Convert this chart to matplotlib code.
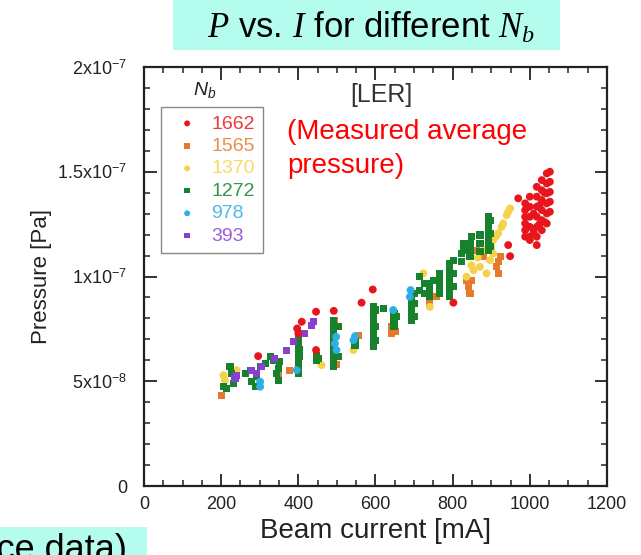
import numpy as np
import matplotlib
matplotlib.use("Agg")
import matplotlib.pyplot as plt
from matplotlib.patches import Rectangle

plt.rcParams['font.family'] = ['Liberation Sans', 'DejaVu Sans']
plt.rcParams['mathtext.fontset'] = 'custom'
plt.rcParams['mathtext.rm'] = 'Liberation Sans'
plt.rcParams['mathtext.it'] = 'Liberation Serif:italic'
plt.rcParams['mathtext.sf'] = 'Liberation Sans:italic'

# beam current [mA] and pressure [1e-8 Pa], one pair of lists per bunch number
i_1662 = [988, 988, 988, 988, 988, 988, 1000, 1000, 1000, 1000, 1000, 1000,
          1018, 1018, 1018, 1018, 1018, 1018, 1018, 1031, 1031, 1031, 1031, 1031, 1031,
          1044, 1044, 1044, 1044, 1044, 1044, 1052, 1052, 1052, 1052, 1052,
          1010, 1010, 1025, 1025, 1038, 1038,
          970, 944, 949, 802, 593, 564, 492, 446, 409, 397, 400, 446, 296]
p_1662 = [13.49, 13.17, 12.85, 12.53, 12.21, 11.90, 13.81, 13.33, 12.85, 12.37, 11.90, 11.74,
          14.28, 13.81, 13.33, 12.85, 12.37, 11.90, 11.50, 14.60, 14.12, 13.65, 13.17, 12.69, 12.21,
          14.92, 14.44, 13.97, 13.49, 13.01, 12.53, 15.0, 14.52, 14.04, 13.57, 13.09,
          13.0, 12.1, 13.4, 12.5, 14.0, 12.6,
          13.73, 11.5, 10.97, 8.75, 9.38, 8.75, 8.36, 8.32, 7.84, 7.52, 7.28, 6.49, 6.2]

i_1565 = [201, 378, 495, 556, 642, 759, 741, 841, 849, 914, 918, 923, 880, 862, 348,
          642, 651, 836, 500, 845, 920]
p_1565 = [4.34, 5.53, 7.92, 7.2, 7.28, 9.03, 8.71, 9.51, 9.83, 10.46, 10.15, 10.94, 10.94,
          11.26, 5.37, 7.6, 7.36, 9.83, 5.8, 9.2, 10.7]

i_1370 = [206, 210, 240, 460, 543, 741, 836, 854, 849, 871, 880, 905, 918, 927, 931, 940,
          944, 949, 905, 897, 888, 724, 865, 900, 912]
p_1370 = [5.29, 5.05, 5.53, 5.77, 6.49, 8.55, 9.99, 10.3, 10.54, 10.46, 11.26, 11.1, 12.06,
          12.37, 12.53, 12.93, 13.09, 13.25, 11.74, 10.78, 10.15, 10.15, 10.9, 11.4, 11.9]

i_1272 = [205, 214, 223, 227, 231, 262, 275, 288, 292, 301, 279,
          316, 327, 335, 344, 348, 352, 348,
          400, 400, 400, 400, 400, 400, 400, 400, 400, 400, 404, 404, 446, 446, 452,
          492, 492, 492, 492, 492, 492, 492, 492, 492, 492, 492, 504, 504, 547, 547,
          594, 594, 594, 594, 594, 594, 594, 594, 594, 594, 601, 601, 601, 620,
          648, 648, 648, 655, 694, 694, 694, 694, 694, 702, 702, 702,
          715, 715, 728, 728, 741, 741, 741, 750, 767, 767, 767, 767,
          793, 793, 793, 793, 793, 793, 793, 793, 802, 802, 802,
          823, 823, 828, 828, 845, 845, 845, 849, 871, 871, 871,
          892, 892, 892, 892, 892, 892, 892, 892, 892, 898, 898, 898]
p_1272 = [4.74, 4.66, 5.69, 5.37, 4.90, 5.37, 5.53, 4.74, 5.21, 5.69, 4.98,
          5.85, 6.17, 6.01, 5.37, 5.05, 5.93, 5.61,
          7.28, 7.1, 6.96, 6.8, 6.65, 6.33, 6.01, 5.69, 5.53, 5.37, 6.5, 6.17, 6.25, 6.01, 6.09,
          7.92, 7.76, 7.6, 7.44, 7.28, 6.96, 6.65, 6.5, 6.33, 6.01, 5.69, 7.6, 6.17, 6.96, 6.73,
          8.55, 8.4, 8.24, 8.08, 7.92, 7.76, 7.6, 7.28, 6.96, 6.65, 8.4, 7.6, 6.96, 8.48,
          8.24, 7.92, 7.6, 8.08, 8.87, 8.71, 8.55, 8.24, 7.92, 9.19, 8.71, 8.08,
          9.99, 9.35, 9.67, 9.19, 9.67, 9.35, 9.03, 9.83, 10.15, 9.83, 9.51, 9.19,
          10.62, 10.46, 10.30, 10.15, 9.99, 9.67, 9.35, 9.03, 10.78, 10.15, 9.51,
          11.1, 10.70, 11.58, 11.26, 11.58, 11.26, 10.94, 11.9, 11.98, 11.58, 11.18,
          12.85, 12.69, 12.53, 12.37, 12.21, 12.05, 11.9, 11.58, 11.26, 12.69, 12.05, 11.42]

i_978 = [495, 499, 498, 543, 547, 646, 691, 689, 301, 396, 301]
p_978 = [6.8, 6.49, 7.12, 6.96, 7.15, 8.4, 9.35, 9.03, 4.74, 5.53, 4.98]

i_393 = [435, 439, 417, 387, 370, 339, 305, 279, 240, 236, 292]
p_393 = [7.68, 7.84, 7.28, 6.88, 6.45, 6.09, 5.69, 5.53, 5.29, 5.13, 5.37]

labels = ['1662', '1565', '1370', '1272', '978', '393']
colors = ['#e8161c', '#e57a2c', '#f5d24a', '#17812b', '#2eaee6', '#8b3fd0']
markers = ['o', 's', 'o', 's', 'o', 's']
currents = [i_1662, i_1565, i_1370, i_1272, i_978, i_393]
pressures = [p_1662, p_1565, p_1370, p_1272, p_978, p_393]

ytick_vals = [0, 5e-8, 1e-7, 1.5e-7, 2e-7]
ytick_labels = ['0', '5x10$^{-8}$', '1x10$^{-7}$', '1.5x10$^{-7}$', '2x10$^{-7}$']
xtick_vals = [0, 200, 400, 600, 800, 1000, 1200]

fig = plt.figure(figsize=(6.41, 5.55), dpi=100)
ax = fig.add_axes([0.2246, 0.1243, 0.7223, 0.7550])

handles = {}
order = [1, 2, 3, 4, 5, 0]   # red drawn last
for k in order:
    h = ax.scatter(currents[k], np.array(pressures[k]) * 1e-8,
                   s=32 if markers[k] == 'o' else 26,
                   marker=markers[k], color=colors[k], edgecolors='none', zorder=3)
    handles[k] = h

ax.set_xlim(0, 1200)
ax.set_ylim(0, 2e-7)
ax.set_xticks(xtick_vals)
ax.set_xticks(np.arange(0, 1201, 50), minor=True)
ax.set_yticks(ytick_vals, ytick_labels)
ax.set_yticks(np.arange(0, 2.01e-7, 1e-8), minor=True)
ax.tick_params(which='both', direction='in', top=True, right=True, colors='#222222',
               labelsize=13)
ax.tick_params(which='major', length=9, width=1.3)
ax.tick_params(which='minor', length=4, width=1.1)
ax.tick_params(axis='y', pad=12)
ax.tick_params(axis='x', pad=7)
for sp in ax.spines.values():
    sp.set_linewidth(1.6)
    sp.set_color('#222222')

ax.set_xlabel('Beam current [mA]', fontsize=20, color='#222222', labelpad=4)
ax.set_ylabel('Pressure [Pa]', fontsize=16, color='#222222', labelpad=4)

leg = ax.legend([handles[k] for k in range(6)], labels, loc='upper left',
                bbox_to_anchor=(0.251, 0.807), bbox_transform=fig.transFigure,
                borderaxespad=0, fontsize=14, frameon=True, fancybox=False,
                edgecolor='#888888', framealpha=1, handlelength=1.9, handletextpad=0.3,
                labelspacing=0.25, borderpad=0.4, markerscale=0.75)
leg.get_frame().set_linewidth(1.0)
for txt, c in zip(leg.get_texts(), colors):
    txt.set_color(c)
    txt.set_alpha(0.85)

fig.text(0.32, 0.838, r'$\mathsf{N_b}$', fontsize=14, color='#222222', ha='center',
         va='center')
fig.text(381 / 641, 1 - 95 / 555, '[LER]', fontsize=18, color='#333333', ha='center',
         va='center')
fig.text(287 / 641, 1 - 149 / 555, '(Measured average\npressure)', fontsize=20,
         color='#ff0000', ha='left', va='center', linespacing=1.4)

# title box
fig.patches.append(Rectangle((173 / 641, 1 - 50 / 555), 387 / 641, 50 / 555,
                             transform=fig.transFigure, facecolor='#b4fdee',
                             edgecolor='none', zorder=0))
fig.text(371 / 641, 1 - 38 / 555, r'$P$ vs. $I$ for different $N_b$', fontsize=25,
         ha='center', va='baseline', color='black')

# cut-off box at bottom left
fig.patches.append(Rectangle((0, 0), 147 / 641, 28 / 555, transform=fig.transFigure,
                             facecolor='#b4fdee', edgecolor='none', zorder=0))
fig.text(127 / 641, -5 / 555, '(Reference data)', fontsize=26, ha='right',
         va='baseline', color='black')

fig.savefig('out.png', dpi=100)
